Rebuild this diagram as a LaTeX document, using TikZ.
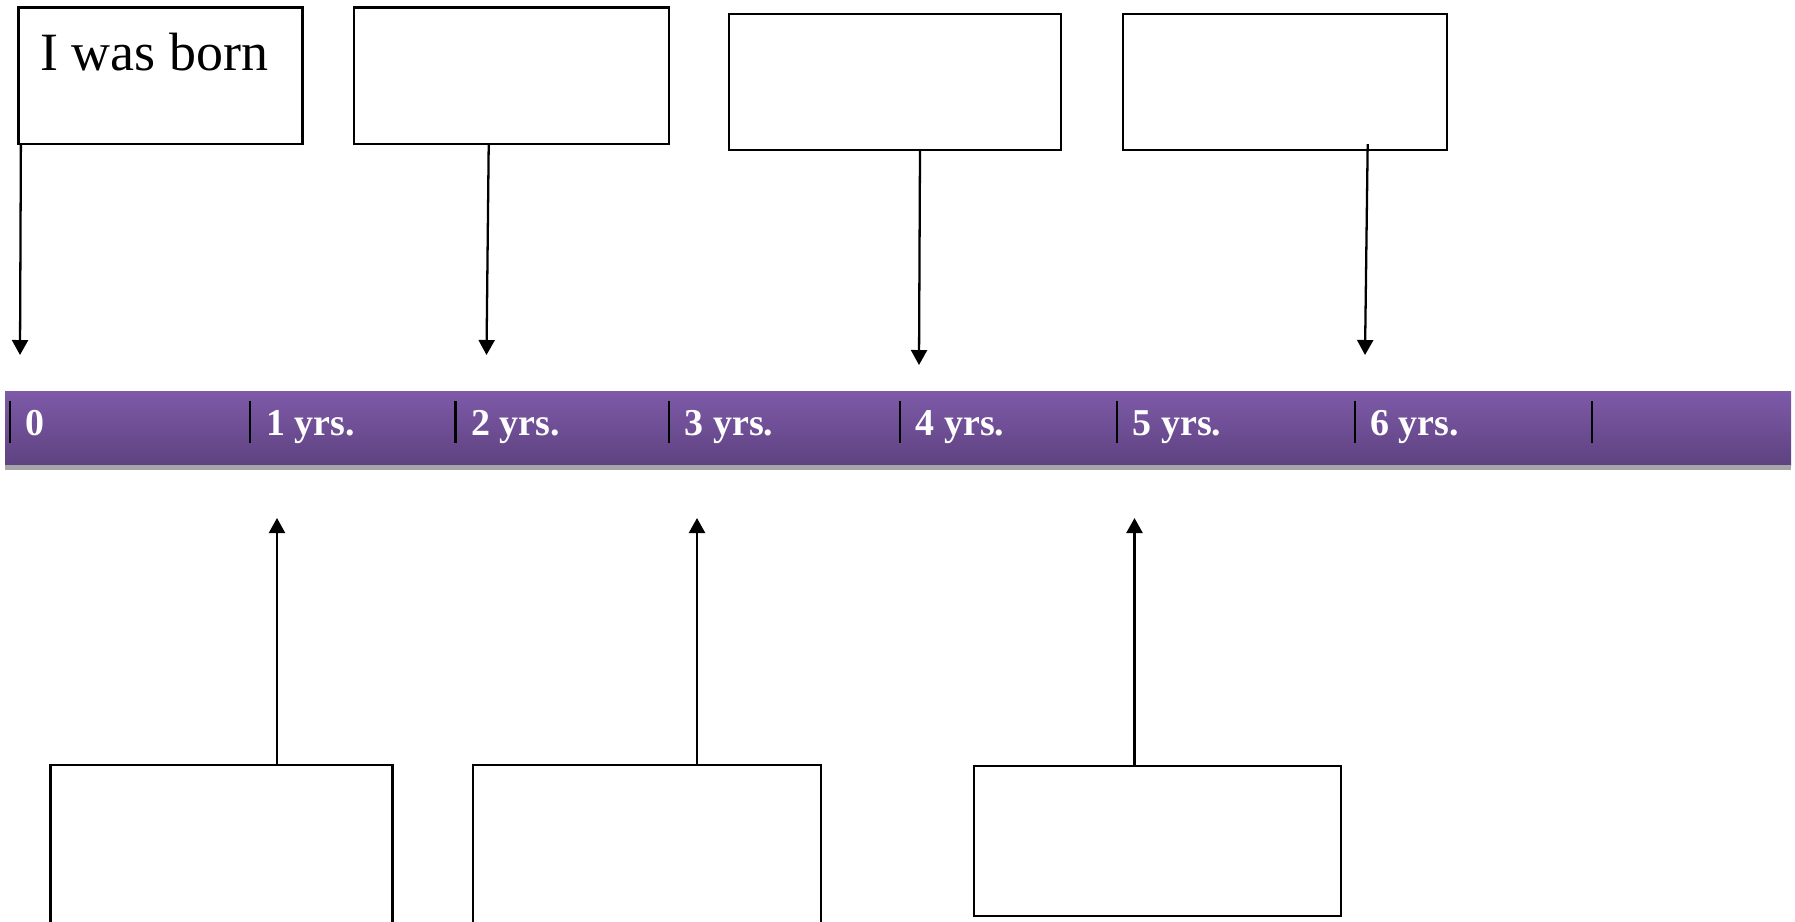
\documentclass[tikz,border=0pt]{standalone}
\usepackage{fontspec}
\setmainfont{Liberation Serif}
\usetikzlibrary{arrows.meta}
\definecolor{bartop}{RGB}{126,90,169}
\definecolor{barbot}{RGB}{94,66,128}
\definecolor{barshadow}{RGB}{166,166,166}
\tikzset{
  memory/.style={draw, line width=1.3pt, inner sep=0pt, minimum height=2.73cm},
  pointer/.style={-{Triangle[width=0.32cm,length=0.3cm]}, line width=1.3pt},
  yearlabel/.style={anchor=base west, inner sep=0pt, text=white, font=\fontsize{21.6}{25}\selectfont\bfseries},
}

\begin{document}
\begin{tikzpicture}[x=0.02cm, y=-0.02cm]
    \clip (0,0) rectangle (1795,921);
    % the time bar
    \shade[top color=bartop, bottom color=barbot] (5,391) rectangle (1791,465);
    \fill[barshadow] (5,465) rectangle (1791,469.5);
    \draw[line width=1.3pt] (10,401)--(10,443);
    \draw[line width=1.3pt] (250,401)--(250,443);
    \draw[line width=1.3pt] (455.5,401)--(455.5,443);
    \draw[line width=1.3pt] (669,401)--(669,443);
    \draw[line width=1.3pt] (900,401)--(900,443);
    \draw[line width=1.3pt] (1117,401)--(1117,443);
    \draw[line width=1.3pt] (1355,401)--(1355,443);
    \draw[line width=1.3pt] (1592,401)--(1592,443);

    \node[yearlabel] (age0) at (25,435) {0};
    \node[yearlabel] (age1) at (266,435) {1 yrs.};
    \node[yearlabel] (age2) at (471,435) {2 yrs.};
    \node[yearlabel] (age3) at (684.5,435) {3 yrs.};
    \node[yearlabel] (age4) at (915.5,435) {4 yrs.};
    \node[yearlabel] (age5) at (1132.5,435) {5 yrs.};
    \node[yearlabel] (age6) at (1370,435) {6 yrs.};

    % boxes above the bar
    \node[memory, minimum width=5.68cm] (born) at (160.5,75.75) {};
    \node[anchor=base west, inner sep=0pt, font=\fontsize{30.7}{36}\selectfont] (borntext) at (40,70) {I was born};
    \node[memory, minimum width=6.3cm] (two) at (511.5,75.75) {};
    \node[memory, minimum width=6.64cm, minimum height=2.72cm] (four) at (895,82) {};
    \node[memory, minimum width=6.48cm, minimum height=2.72cm] (six) at (1284.7,82) {};

    % boxes below the bar
    \node[memory, minimum width=6.84cm, minimum height=3.9cm] (one) at (221.5,862.5) {};
    \node[memory, minimum width=6.96cm, minimum height=3.9cm] (three) at (647,862.5) {};
    \node[memory, minimum width=7.34cm, minimum height=3.0cm] (five) at (1157.5,841) {};

    \coordinate (tip0) at (20,355);
    \coordinate (tip2) at (486.5,355);
    \coordinate (tip4) at (919,365);
    \coordinate (tip6) at (1365,355);
    \coordinate (tip1) at (277,518);
    \coordinate (tip3) at (697,518);
    \coordinate (tip5) at (1134.5,518);

    \draw[pointer] ([xshift=0.07cm]born.south west) -- (tip0);
    \draw[pointer] ([xshift=-0.456cm]two.south) -- (tip2);
    \draw[pointer] ([xshift=0.5cm]four.south) -- (tip4);
    \draw[pointer] ([xshift=1.66cm, yshift=0.14cm]six.south) -- (tip6);
    \draw[pointer] (one.north -| tip1) -- (tip1);
    \draw[pointer] (three.north -| tip3) -- (tip3);
    \draw[pointer] (five.north -| tip5) -- (tip5);
\end{tikzpicture}
\end{document}
